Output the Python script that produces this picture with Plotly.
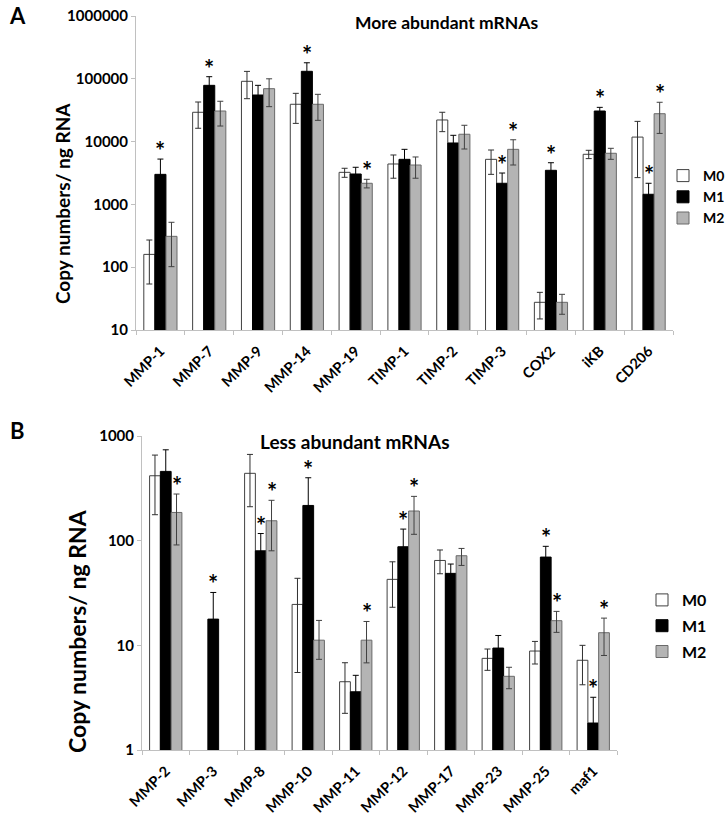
import math
import plotly.graph_objects as go

# ---------------- Panel A data ----------------
cats_a = ["MMP-1", "MMP-7", "MMP-9", "MMP-14", "MMP-19", "TIMP-1", "TIMP-2", "TIMP-3", "COX2", "iKB", "CD206"]
m0_a = [160, 29300, 91200, 39300, 3240, 4400, 22100, 5220, 27.6, 6280, 11800]
m0_a_up = [111, 13400, 40000, 19400, 520, 1720, 7200, 2130, 12.2, 990, 9200]
m0_a_dn = [106, 13000, 43000, 19800, 540, 1790, 7700, 2210, 12.6, 920, 9130]
m1_a = [3010, 78700, 55200, 131600, 3050, 5220, 9510, 2170, 3490, 30700, 1450]
m1_a_err = [2260, 29300, 23500, 48400, 850, 2310, 3090, 990, 1120, 4400, 720]
m2_a = [310, 30700, 69600, 39300, 2170, 4240, 13100, 7530, 27.6, 6520, 27800]
m2_a_up = [209, 13200, 30400, 17300, 340, 1450, 5100, 3170, 9.4, 1300, 14500]
m2_a_dn = [208, 13000, 33600, 17500, 340, 1630, 5480, 3290, 9.8, 1300, 14300]
star_m1_a = [1, 1, 0, 1, 0, 0, 0, 1, 1, 1, 1]
star_m2_a = [0, 0, 0, 0, 1, 0, 0, 1, 0, 0, 1]
ticks_a = [10, 100, 1000, 10000, 100000, 1000000]
ticktext_a = ["10", "100", "1000", "10000", "100000", "1000000"]

# ---------------- Panel B data ----------------
cats_b = ["MMP-2", "MMP-3", "MMP-8", "MMP-10", "MMP-11", "MMP-12", "MMP-17", "MMP-23", "MMP-25", "maf1"]
m0_b = [417, None, 440, 24.6, 4.49, 42.7, 64.7, 7.51, 8.82, 7.2]
m0_b_up = [240, None, 227, 19.1, 2.33, 20.1, 16.8, 1.71, 2.08, 2.8]
m0_b_dn = [240, None, 229, 19.1, 2.25, 19.6, 16.4, 1.74, 2.19, 3.0]
m1_b = [459, 17.8, 80, 217, 3.6, 87.5, 48.7, 9.42, 69.7, 1.81]
m1_b_err = [279, 14.2, 37, 182, 1.57, 41.5, 11.1, 3.0, 18.6, 1.38]
m2_b = [186, None, 155, 11.2, 11.2, 192, 71.8, 5.06, 17.2, 13.2]
m2_b_up = [93, None, 88, 6.1, 5.7, 73, 12.5, 1.11, 3.9, 5.0]
m2_b_dn = [95, None, 75, 3.85, 4.4, 77, 13.8, 1.21, 3.9, 5.2]
star_m1_b = [0, 1, 1, 1, 0, 1, 0, 0, 1, 1]
star_m2_b = [1, 0, 1, 0, 1, 1, 0, 0, 1, 1]
ticks_b = [1, 10, 100, 1000]
ticktext_b = ["1", "10", "100", "1000"]

series_names = ["M0", "M1", "M2"]

# ---------------- styling ----------------
W, H = 726, 817
FONT = "Lato"
BARGAP = 0.32
fill_colors = ["#ffffff", "#000000", "#b4b4b4"]
line_colors = ["#404040", "#000000", "#6a6a6a"]
err_colors = ["#303030", "#000000", "#404040"]

# domains in pixels (left, right, top, bottom)
dom_a = (136, 673, 16, 330)
dom_b = (142, 617, 436, 750)


def xdom(d):
    return [d[0] / W, d[1] / W]


def ydom(d):
    return [1 - d[3] / H, 1 - d[2] / H]


fig = go.Figure()


def add_panel(cats, vals, ups, dns, xa, ya, legend):
    for i, name in enumerate(series_names):
        fig.add_trace(go.Bar(
            x=cats, y=vals[i], name=name,
            marker=dict(color=fill_colors[i], line=dict(color=line_colors[i], width=1)),
            error_y=dict(type="data", array=ups[i], arrayminus=dns[i], symmetric=False,
                         color=err_colors[i], thickness=1, width=3),
            xaxis=xa, yaxis=ya, legend=legend, legendgroup=legend + name,
        ))


add_panel(cats_a, [m0_a, m1_a, m2_a], [m0_a_up, m1_a_err, m2_a_up], [m0_a_dn, m1_a_err, m2_a_dn],
          "x", "y", "legend")
add_panel(cats_b, [m0_b, m1_b, m2_b], [m0_b_up, m1_b_err, m2_b_up], [m0_b_dn, m1_b_err, m2_b_dn],
          "x2", "y2", "legend2")


def add_stars(cats, vals, errs, flags, series_idx, d, xref, yref):
    cat_px = (d[1] - d[0]) / len(cats)
    bar_px = cat_px * (1 - BARGAP) / 3
    shift = (series_idx - 1) * bar_px
    for c, v, e, f in zip(cats, vals, errs, flags):
        if f and v is not None:
            fig.add_annotation(x=c, y=math.log10(v + e), xref=xref, yref=yref,
                               text="*", showarrow=False, xshift=shift,
                               xanchor="center", yanchor="bottom", yshift=-8,
                               font=dict(family=FONT, size=24, color="#000", weight="bold"))


add_stars(cats_a, m1_a, m1_a_err, star_m1_a, 1, dom_a, "x", "y")
add_stars(cats_a, m2_a, m2_a_up, star_m2_a, 2, dom_a, "x", "y")
add_stars(cats_b, m1_b, m1_b_err, star_m1_b, 1, dom_b, "x2", "y2")
add_stars(cats_b, m2_b, m2_b_up, star_m2_b, 2, dom_b, "x2", "y2")

axis_common = dict(showline=True, linecolor="#c0c0c0", linewidth=1, showgrid=False,
                   zeroline=False, ticks="outside", tickcolor="#c0c0c0", ticklen=4,
                   automargin=False)
ytickfont = dict(family=FONT, size=15, color="#000", weight="bold")
xtickfont = dict(family=FONT, size=14.5, color="#000", weight="bold")

fig.update_layout(
    width=W, height=H, margin=dict(l=0, r=0, t=0, b=0, autoexpand=False),
    paper_bgcolor="white", plot_bgcolor="white",
    barmode="group", bargap=BARGAP, bargroupgap=0,
    xaxis=dict(domain=xdom(dom_a), anchor="y", type="category", tickangle=-45,
               tickson="boundaries", tickfont=xtickfont, ticklabelstandoff=6, **axis_common),
    yaxis=dict(domain=ydom(dom_a), anchor="x", type="log", range=[1, 6],
               tickvals=ticks_a, ticktext=ticktext_a, tickfont=ytickfont, **axis_common),
    xaxis2=dict(domain=xdom(dom_b), anchor="y2", type="category", tickangle=-45,
                tickson="boundaries", tickfont=xtickfont, ticklabelstandoff=6, **axis_common),
    yaxis2=dict(domain=ydom(dom_b), anchor="x2", type="log", range=[0, 3],
                tickvals=ticks_b, ticktext=ticktext_b, tickfont=ytickfont, **axis_common),
    legend=dict(x=663 / W, y=1 - 197 / H, xanchor="left", yanchor="middle",
                font=dict(family=FONT, size=14, color="#000", weight="bold"),
                traceorder="grouped", tracegroupgap=0, bgcolor="rgba(0,0,0,0)"),
    legend2=dict(x=642 / W, y=1 - 626 / H, xanchor="left", yanchor="middle",
                 font=dict(family=FONT, size=16, color="#000", weight="bold"),
                 traceorder="grouped", tracegroupgap=2, bgcolor="rgba(0,0,0,0)"),
    showlegend=True,
)


def text_ann(x, y, text, size, angle=0):
    fig.add_annotation(x=x / W, y=1 - y / H, xref="paper", yref="paper", text=text,
                       textangle=angle, showarrow=False, xanchor="center", yanchor="middle",
                       font=dict(family=FONT, size=size, color="#000", weight="bold"))


text_ann(446, 23, "More abundant mRNAs", 17.5)
text_ann(355, 441, "Less abundant mRNAs", 19)
text_ann(17, 15, "A", 22)
text_ann(17, 430, "B", 22)
text_ann(62, 204, "Copy numbers/ ng RNA", 19, -90)
text_ann(77, 631, "Copy numbers/ ng RNA", 23, -90)

fig.write_html("out.html", config={"displayModeBar": False},
               post_script="document.body.style.margin='0';")
